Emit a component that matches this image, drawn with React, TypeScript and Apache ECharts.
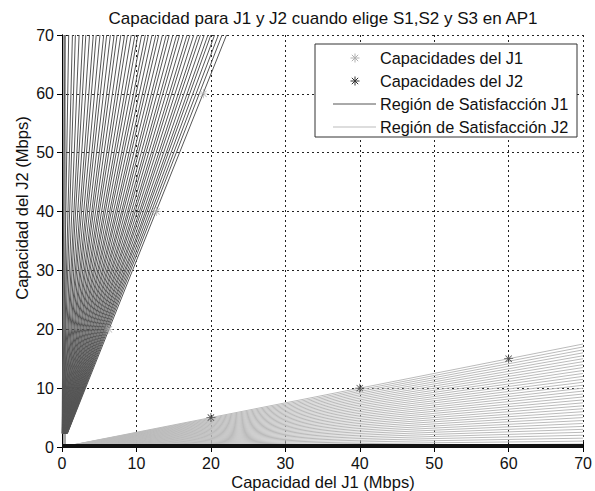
import React, { useEffect, useRef } from "react";
import * as echarts from "echarts";

const titleText = "Capacidad para J1 y J2 cuando elige S1,S2 y S3 en AP1";
const xAxisName = "Capacidad del J1 (Mbps)";
const yAxisName = "Capacidad del J2 (Mbps)";
const legendNames = [
  "Capacidades del J1",
  "Capacidades del J2",
  "Región de Satisfacción J1",
  "Región de Satisfacción J2",
];
const xTicks = [0, 10, 20, 30, 40, 50, 60, 70];
const yTicks = [0, 10, 20, 30, 40, 50, 60, 70];

// J1 / J2 capacity points
const j1Points: [number, number][] = [
  [6.3, 20],
  [12.7, 40],
  [19.0, 60],
];
const j2Points: [number, number][] = [
  [20, 5],
  [40, 10],
  [60, 15],
];

// Region J1: dark fan lines, x where each reaches y = 70
const darkTopX = [
  0.4, 0.9, 1.4, 1.8, 2.3, 2.8, 3.2, 3.7, 4.2, 4.6, 5.1, 5.6, 6.0, 6.5, 7.0,
  7.4, 7.9, 8.4, 8.8, 9.3, 9.8, 10.2, 10.7, 11.2, 11.6, 12.1, 12.6, 13.0, 13.5,
  14.0, 14.4, 14.9, 15.4, 15.8, 16.3, 16.8, 17.2, 17.7, 18.2, 18.6, 19.1, 19.6,
  20.0, 20.5, 21.0, 21.5, 22.1,
];
const darkStartY = 2.3;

// Region J2: light fan lines, y where each reaches x = 70
const lightEndY = [
  0, 0.5, 1.0, 1.5, 2.0, 2.5, 3.0, 3.5, 4.0, 4.5, 5.0, 5.5, 6.0, 6.5, 7.0, 7.5,
  8.0, 8.5, 9.0, 9.5, 10.0, 10.5, 11.0, 11.5, 12.0, 12.5, 13.0, 13.5, 14.0,
  14.5, 15.0, 15.5, 16.0, 16.5, 17.0, 17.5,
];

const AST =
  "path://M-0.09,-1H0.09V1H-0.09Z M-1,-0.09H1V0.09H-1Z M-0.64,-0.77L0.77,0.64L0.64,0.77L-0.77,-0.64Z M0.64,-0.77L0.77,-0.64L-0.64,0.77L-0.77,0.64Z";

const FONT = "Liberation Sans, Arial, Helvetica, sans-serif";
const DARK = "#555555";
const LIGHT = "#bbbbbb";
const LZ = 100;

function asterisk(cx: number, cy: number, r: number, color: string) {
  const d = r * 0.7071;
  const s = { stroke: color, lineWidth: 1 };
  return [
    { type: "line", z: LZ + 1, shape: { x1: cx - r, y1: cy, x2: cx + r, y2: cy }, style: s },
    { type: "line", z: LZ + 1, shape: { x1: cx, y1: cy - r, x2: cx, y2: cy + r }, style: s },
    { type: "line", z: LZ + 1, shape: { x1: cx - d, y1: cy - d, x2: cx + d, y2: cy + d }, style: s },
    { type: "line", z: LZ + 1, shape: { x1: cx - d, y1: cy + d, x2: cx + d, y2: cy - d }, style: s },
  ];
}

export default function App() {
  const ref = useRef<HTMLDivElement>(null);
  useEffect(() => {
    if (!ref.current) return;
    const chart = echarts.init(ref.current, null, { renderer: "svg" });
    const axisCommon = {
      type: "value",
      min: 0,
      max: 70,
      interval: 10,
      axisLine: { show: true, lineStyle: { color: "#000", width: 1 } },
      axisTick: { show: true, inside: true, length: 5, lineStyle: { color: "#000" } },
      splitLine: {
        show: true,
        lineStyle: { color: "#222", type: [2, 3], width: 1 },
      },
    };
    const legendX = 315,
      legendY = 44,
      legendW = 262,
      legendH = 93;
    const rowY = [58, 81, 104, 127];
    const option: any = {
      animation: false,
      backgroundColor: "#fff",
      grid: { left: 62, right: 10, top: 35, bottom: 44, containLabel: false },
      xAxis: [
        {
          ...axisCommon,
          position: "bottom",
          axisLabel: {
            color: "#111",
            fontSize: 16,
            fontFamily: FONT,
            margin: 8,
            formatter: (v: number) => (xTicks.includes(v) ? String(v) : ""),
          },
        },
        {
          ...axisCommon,
          position: "top",
          axisLabel: { show: false },
          splitLine: { show: false },
        },
      ],
      yAxis: [
        {
          ...axisCommon,
          position: "left",
          axisLabel: {
            color: "#111",
            fontSize: 16,
            fontFamily: FONT,
            margin: 8,
            formatter: (v: number) => (yTicks.includes(v) ? String(v) : ""),
          },
        },
        {
          ...axisCommon,
          position: "right",
          axisLabel: { show: false },
          splitLine: { show: false },
        },
      ],
      series: [
        {
          name: legendNames[3],
          type: "lines",
          coordinateSystem: "cartesian2d",
          polyline: false,
          silent: true,
          z: 3,
          lineStyle: { color: LIGHT, width: 1, opacity: 1 },
          data: lightEndY.map((y) => ({ coords: [[0, 0], [70, y]] })),
        },
        {
          name: "band",
          type: "lines",
          coordinateSystem: "cartesian2d",
          silent: true,
          z: 3,
          lineStyle: { color: "#a8a8a8", width: 3, opacity: 1 },
          data: [{ coords: [[0.25, 0], [0.25, 70]] }],
        },
        {
          name: legendNames[2],
          type: "lines",
          coordinateSystem: "cartesian2d",
          polyline: false,
          silent: true,
          z: 4,
          lineStyle: { color: DARK, width: 1, opacity: 1 },
          data: darkTopX.map((x) => ({
            coords: [[(x * darkStartY) / 70, darkStartY], [x, 70]],
          })),
        },
        {
          name: "base",
          type: "lines",
          coordinateSystem: "cartesian2d",
          silent: true,
          z: 6,
          lineStyle: { color: "#111", width: 4, opacity: 1 },
          data: [{ coords: [[0, 0.25], [70, 0.25]] }],
        },
        {
          name: legendNames[0],
          type: "scatter",
          z: 7,
          symbol: AST,
          symbolSize: 9,
          itemStyle: { color: "#b0b0b0" },
          data: j1Points,
        },
        {
          name: legendNames[1],
          type: "scatter",
          z: 7,
          symbol: AST,
          symbolSize: 9,
          itemStyle: { color: "#333" },
          data: j2Points,
        },
      ],
      graphic: [
        {
          type: "text",
          x: 323,
          y: 18,
          style: {
            text: titleText,
            fontSize: 17,
            fontFamily: FONT,
            fill: "#111",
            align: "center",
            verticalAlign: "middle",
          },
        },
        {
          type: "text",
          x: 323,
          y: 482,
          style: {
            text: xAxisName,
            fontSize: 16.5,
            fontFamily: FONT,
            fill: "#111",
            align: "center",
            verticalAlign: "middle",
          },
        },
        {
          type: "text",
          x: 22,
          y: 208,
          rotation: Math.PI / 2,
          style: {
            text: yAxisName,
            fontSize: 16.5,
            fontFamily: FONT,
            fill: "#111",
            align: "center",
            verticalAlign: "middle",
          },
        },
        {
          type: "rect",
          z: LZ,
          shape: { x: legendX, y: legendY, width: legendW, height: legendH },
          style: { fill: "#fff", stroke: "#333", lineWidth: 1 },
        },
        ...asterisk(355, rowY[0], 4.5, "#b0b0b0"),
        ...asterisk(355, rowY[1], 4.5, "#333"),
        {
          type: "line",
          z: LZ + 1,
          shape: { x1: 333, y1: rowY[2], x2: 376, y2: rowY[2] },
          style: { stroke: DARK, lineWidth: 1 },
        },
        {
          type: "line",
          z: LZ + 1,
          shape: { x1: 333, y1: rowY[3], x2: 376, y2: rowY[3] },
          style: { stroke: LIGHT, lineWidth: 1 },
        },
        ...legendNames.map((n, i) => ({
          type: "text",
          z: LZ + 1,
          x: 380,
          y: rowY[i],
          style: {
            text: n,
            fontSize: 16.3,
            fontFamily: FONT,
            fill: "#111",
            align: "left",
            verticalAlign: "middle",
          },
        })),
      ],
    };
    chart.setOption(option);
    return () => chart.dispose();
  }, []);
  return (
    <div
      ref={ref}
      style={{ position: "fixed", left: 0, top: 0, width: 595, height: 491 }}
    />
  );
}
